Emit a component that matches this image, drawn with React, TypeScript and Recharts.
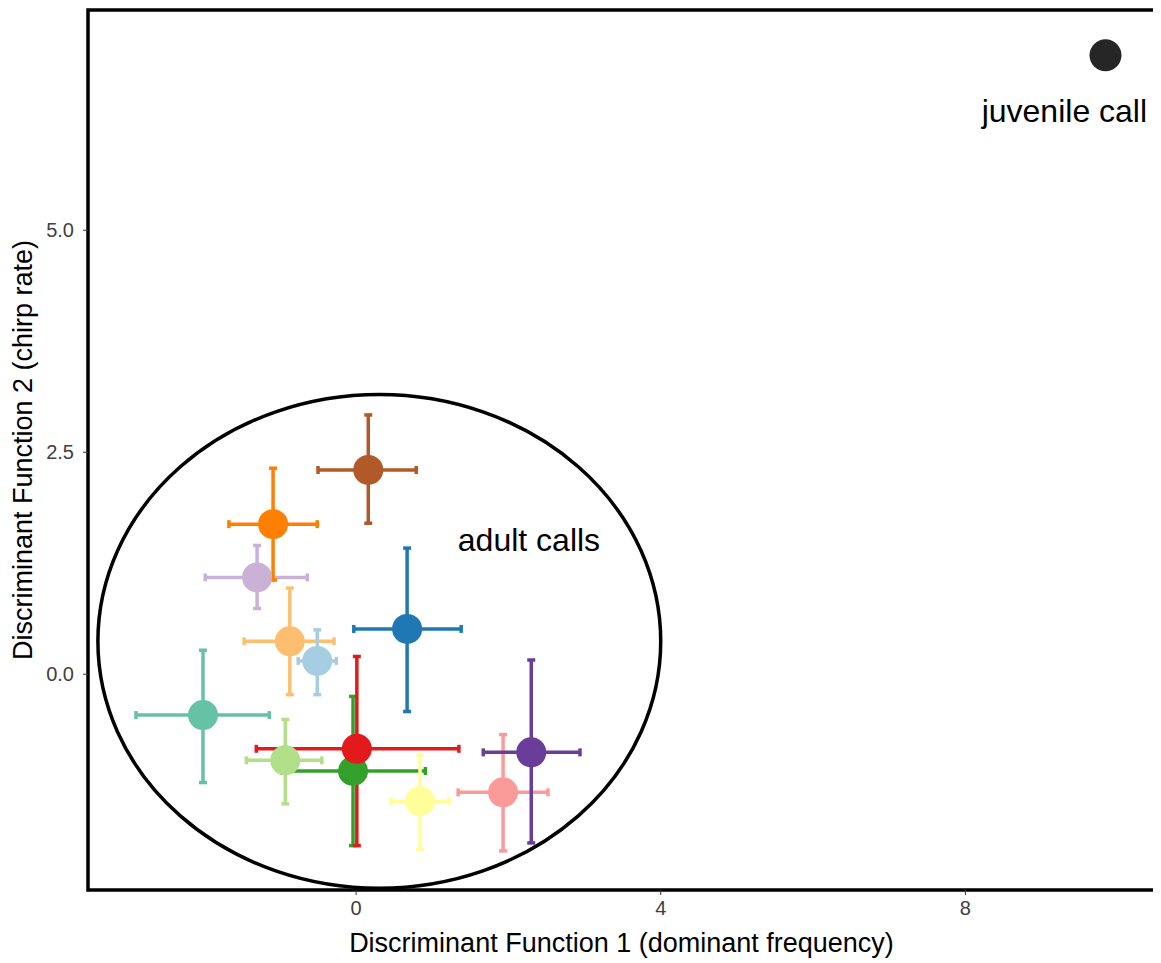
import React from "react";
import {
  ScatterChart,
  Scatter,
  XAxis,
  YAxis,
  ErrorBar,
  ReferenceArea,
  ReferenceDot,
} from "recharts";

// group means (DF1, DF2) and error-bar limits
const groups = [
  "teal", "lavender", "orange", "lightorange", "lightblue", "lightgreen",
  "brown", "blue", "green", "red", "yellow", "pink", "purple",
];
const df1Mean = [-2.01, -1.3, -1.09, -0.87, -0.51, -0.93, 0.16, 0.67, -0.04, 0.01, 0.84, 1.93, 2.3];
const df2Mean = [-0.46, 1.09, 1.69, 0.37, 0.15, -0.97, 2.3, 0.51, -1.09, -0.84, -1.43, -1.33, -0.88];
const df1Low = [-2.89, -1.98, -1.67, -1.47, -0.76, -1.44, -0.5, -0.03, -0.97, -1.31, 0.46, 1.34, 1.67];
const df1High = [-1.14, -0.64, -0.51, -0.29, -0.26, -0.45, 0.79, 1.38, 0.91, 1.35, 1.22, 2.52, 2.94];
const df2Low = [-1.22, 0.74, 1.06, -0.23, -0.23, -1.46, 1.7, -0.42, -1.93, -1.93, -1.97, -1.99, -1.9];
const df2High = [0.27, 1.45, 2.32, 0.97, 0.5, -0.51, 2.92, 1.42, -0.25, 0.2, -0.91, -0.68, 0.16];

const juvenile = { x: 9.84, y: 6.97 };

const colors = [
  "#66c2a5", "#cab2d6", "#ff7f00", "#fdbf6f", "#a6cee3", "#b2df8a",
  "#b15928", "#1f78b4", "#33a02c", "#e31a1c", "#ffff99", "#fb9a99", "#6a3d9a",
];

const xTicks = [0, 4, 8];
const yTicks = [0, 2.5, 5];
const xDomain: [number, number] = [-3.52, 10.49];
const yDomain: [number, number] = [-2.43, 7.48];

// "adult calls" outline
const ellipseX: [number, number] = [-3.39, 4.0];
const ellipseY: [number, number] = [-2.41, 3.15];

// annotation positions
const juvenileLabel = { x: 9.3, y: 6.35, text: "juvenile call" };
const adultLabel = { x: 2.27, y: 1.51, text: "adult calls" };

const rows = groups.map((g, i) => ({
  group: g,
  x: df1Mean[i],
  y: df2Mean[i],
  ex: [df1Mean[i] - df1Low[i], df1High[i] - df1Mean[i]],
  ey: [df2Mean[i] - df2Low[i], df2High[i] - df2Mean[i]],
}));

const font = "'Liberation Sans', Arial, Helvetica, sans-serif";
const tickColor = "#404040";

const XTick = (props: any) => {
  const { x, y, payload } = props;
  return (
    <text x={x} y={y + 18} textAnchor="middle" fontSize={20} fill={tickColor} fontFamily={font}>
      {payload.value}
    </text>
  );
};

const YTick = (props: any) => {
  const { x, y, payload } = props;
  return (
    <text x={x} y={y + 7} textAnchor="end" fontSize={20} fill={tickColor} fontFamily={font}>
      {Number(payload.value).toFixed(1)}
    </text>
  );
};

const Ellipse = (props: any) => {
  const { x, y, width, height } = props;
  return (
    <ellipse
      cx={x + width / 2}
      cy={y + height / 2}
      rx={width / 2}
      ry={height / 2}
      fill="none"
      stroke="#000"
      strokeWidth={3.5}
    />
  );
};

export default function App() {
  return (
    <div style={{ fontFamily: font }}>
      <ScatterChart
        width={1153}
        height={955}
        margin={{ top: 2, right: 6, bottom: 5, left: 10 }}
      >
        <XAxis
          type="number"
          dataKey="x"
          domain={xDomain}
          ticks={xTicks}
          axisLine={false}
          tickSize={5}
          tickMargin={2}
          tickLine={{ stroke: "#333" }}
          tick={<XTick />}
          height={68}
          allowDataOverflow
          label={{
            value: "Discriminant Function 1 (dominant frequency)",
            position: "insideBottom",
            offset: 6,
            fill: "#000",
            fontSize: 27,
          }}
        />
        <YAxis
          type="number"
          dataKey="y"
          domain={yDomain}
          ticks={yTicks}
          axisLine={false}
          tickSize={5}
          tickMargin={9}
          tickLine={{ stroke: "#333" }}
          tick={<YTick />}
          width={70}
          allowDataOverflow
          label={{
            value: "Discriminant Function 2 (chirp rate)",
            angle: -90,
            position: "insideLeft",
            offset: 4,
            style: { textAnchor: "middle" },
            fill: "#000",
            fontSize: 27,
          }}
        />
        <ReferenceArea
          x1={ellipseX[0]}
          x2={ellipseX[1]}
          y1={ellipseY[0]}
          y2={ellipseY[1]}
          shape={Ellipse}
          ifOverflow="visible"
        />
        {rows.map((r, i) => (
          <Scatter
            key={"pt-" + r.group}
            data={[r]}
            isAnimationActive={false}
            shape={(p: any) => (
              <circle cx={p.cx} cy={p.cy} r={15} fill={colors[i]} />
            )}
          />
        ))}
        {rows.map((r, i) => (
          <Scatter
            key={"eb-" + r.group}
            data={[r]}
            isAnimationActive={false}
            shape={() => <g />}
          >
            <ErrorBar dataKey="ex" direction="x" width={4} strokeWidth={3.5} stroke={colors[i]} />
            <ErrorBar dataKey="ey" direction="y" width={4} strokeWidth={3.5} stroke={colors[i]} />
          </Scatter>
        ))}
        <Scatter
          data={[juvenile]}
          isAnimationActive={false}
          shape={(p: any) => <circle cx={p.cx} cy={p.cy} r={16} fill="#262626" />}
        />
        <ReferenceDot
          x={juvenileLabel.x}
          y={juvenileLabel.y}
          r={0}
          stroke="none"
          label={{ value: juvenileLabel.text, position: "center", fill: "#000", fontSize: 32 }}
        />
        <ReferenceDot
          x={adultLabel.x}
          y={adultLabel.y}
          r={0}
          stroke="none"
          label={{ value: adultLabel.text, position: "center", fill: "#000", fontSize: 32 }}
        />
        <ReferenceArea
          x1={xDomain[0]}
          x2={xDomain[1]}
          y1={yDomain[0]}
          y2={yDomain[1]}
          fill="none"
          stroke="#000"
          strokeWidth={3.5}
          ifOverflow="visible"
        />
      </ScatterChart>
    </div>
  );
}
